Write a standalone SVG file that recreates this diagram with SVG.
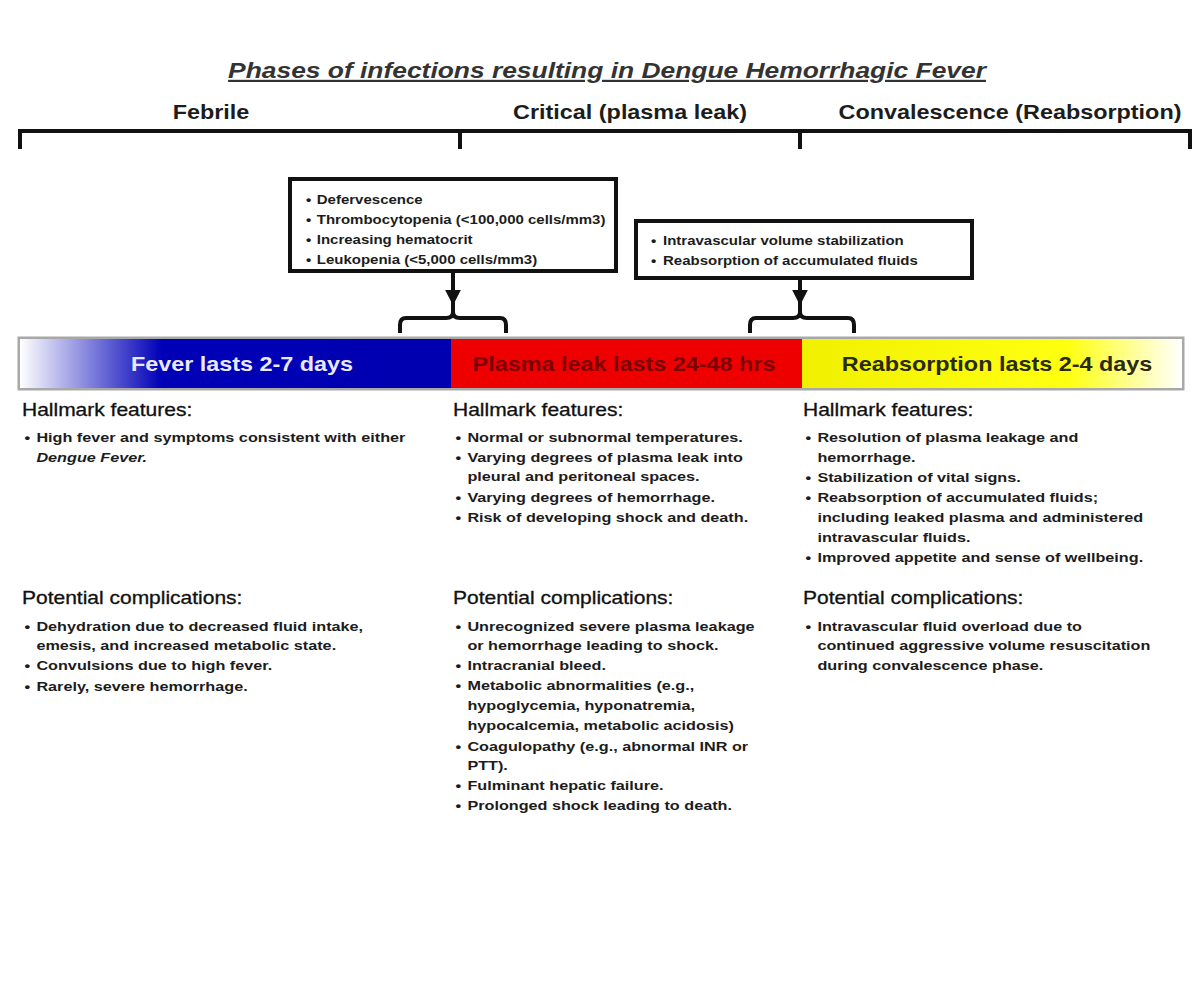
<svg xmlns="http://www.w3.org/2000/svg" width="1200" height="981" viewBox="0 0 1200 981">
<defs>
<style>
text{font-family:"Liberation Sans",Arial,sans-serif;fill:#1c1c1c}
.title{font-size:22px;font-weight:bold;font-style:italic;fill:#333;text-decoration:underline}
.phase{font-size:19.5px;font-weight:bold}
.box{font-size:12.5px;font-weight:bold}
.bar{font-size:19.5px;font-weight:bold}
.hd{font-size:17.5px;fill:#111;stroke:#111;stroke-width:0.3}
.bd{font-size:13.5px;font-weight:bold}
.ln{fill:none;stroke:#111;stroke-width:4}
.frame{fill:#fff;stroke:#111;stroke-width:4}
</style>
<linearGradient id="gBlue" x1="20" y1="0" x2="450" y2="0" gradientUnits="userSpaceOnUse">
<stop offset="0" stop-color="#ffffff"/>
<stop offset="0.33" stop-color="#0000b8"/>
<stop offset="1" stop-color="#0000b0"/>
</linearGradient>
<linearGradient id="gYel" x1="802" y1="0" x2="1182" y2="0" gradientUnits="userSpaceOnUse">
<stop offset="0" stop-color="#f0f000"/>
<stop offset="0.7" stop-color="#ffff10"/>
<stop offset="1" stop-color="#ffffff"/>
</linearGradient>
<marker id="arr" viewBox="0 0 10 10" refX="9" refY="5" markerWidth="4" markerHeight="4" orient="auto" markerUnits="strokeWidth">
<path d="M0,0 L10,5 L0,10 Z" fill="#111"/>
</marker>
</defs>
<rect width="1200" height="981" fill="#ffffff"/>

<g id="title" transform="translate(607 0) scale(1.2 1)">
<text class="title" x="0" y="78" text-anchor="middle">Phases of infections resulting in Dengue Hemorrhagic Fever</text>
</g>

<g id="phase-headers">
<g transform="translate(211 0) scale(1.2 1)"><text class="phase" x="0" y="119" text-anchor="middle">Febrile</text></g>
<g transform="translate(630 0) scale(1.2 1)"><text class="phase" x="0" y="119" text-anchor="middle">Critical (plasma leak)</text></g>
<g transform="translate(1010 0) scale(1.2 1)"><text class="phase" x="0" y="119" text-anchor="middle">Convalescence (Reabsorption)</text></g>
</g>

<g id="timeline-bracket">
<path class="ln" d="M20,149 V131 H1190 V149 M460,131 V149 M800,131 V149"/>
</g>

<g id="box-critical-signs">
<rect class="frame" x="290" y="179" width="326" height="92"/>
<g transform="translate(306 0) scale(1.2 1)">
<text class="box" x="0" y="204">•</text><text class="box" x="9" y="204">Defervescence</text>
<text class="box" x="0" y="224">•</text><text class="box" x="9" y="224">Thrombocytopenia (&lt;100,000 cells/mm3)</text>
<text class="box" x="0" y="244">•</text><text class="box" x="9" y="244">Increasing hematocrit</text>
<text class="box" x="0" y="264">•</text><text class="box" x="9" y="264">Leukopenia (&lt;5,000 cells/mm3)</text>
</g>
</g>

<g id="box-recovery-signs">
<rect class="frame" x="636" y="221" width="336" height="57"/>
<g transform="translate(651 0) scale(1.2 1)">
<text class="box" x="0" y="245">•</text><text class="box" x="10" y="245">Intravascular volume stabilization</text>
<text class="box" x="0" y="265">•</text><text class="box" x="10" y="265">Reabsorption of accumulated fluids</text>
</g>
</g>

<g id="connectors">
<path class="ln" d="M453,271 V304" marker-end="url(#arr)"/>
<path class="ln" d="M453,302 V312 Q453,318 446,318 H406 Q400,318 400,325 V333 M453,312 Q453,318 460,318 H500 Q506,318 506,325 V333"/>
<path class="ln" d="M800,278 V304" marker-end="url(#arr)"/>
<path class="ln" d="M800,302 V312 Q800,318 793,318 H756 Q750,318 750,325 V333 M800,312 Q800,318 807,318 H848 Q854,318 854,325 V333"/>
</g>

<g id="phase-bar">
<rect x="19" y="338" width="1164" height="51" fill="none" stroke="#a8a8a8" stroke-width="3"/>
<rect id="bar-fever" x="20" y="339" width="431" height="49" fill="url(#gBlue)"/>
<rect id="bar-plasma" x="451" y="339" width="351" height="49" fill="#ee0000"/>
<rect id="bar-reabs" x="802" y="339" width="380" height="49" fill="url(#gYel)"/>
<g transform="translate(242 0) scale(1.2 1)"><text class="bar" x="0" y="371" text-anchor="middle" style="fill:#e8e8ff">Fever lasts 2-7 days</text></g>
<g transform="translate(624 0) scale(1.2 1)"><text class="bar" x="0" y="371" text-anchor="middle" style="fill:#7a0000">Plasma leak lasts 24-48 hrs</text></g>
<g transform="translate(997 0) scale(1.2 1)"><text class="bar" x="0" y="371" text-anchor="middle" style="fill:#2a2a10">Reabsorption lasts 2-4 days</text></g>
</g>

<g id="col-febrile" transform="translate(22 0) scale(1.2 1)">
<text class="hd" x="0" y="416">Hallmark features:</text>
<text class="bd" x="2" y="442">•</text><text class="bd" x="12" y="442">High fever and symptoms consistent with either</text>
<text class="bd" x="12" y="462" font-style="italic">Dengue Fever.</text>
<text class="hd" x="0" y="604">Potential complications:</text>
<text class="bd" x="2" y="631">•</text><text class="bd" x="12" y="631">Dehydration due to decreased fluid intake,</text>
<text class="bd" x="12" y="650">emesis, and increased metabolic state.</text>
<text class="bd" x="2" y="670">•</text><text class="bd" x="12" y="670">Convulsions due to high fever.</text>
<text class="bd" x="2" y="691">•</text><text class="bd" x="12" y="691">Rarely, severe hemorrhage.</text>
</g>

<g id="col-critical" transform="translate(453 0) scale(1.2 1)">
<text class="hd" x="0" y="416">Hallmark features:</text>
<text class="bd" x="2" y="442">•</text><text class="bd" x="12" y="442">Normal or subnormal temperatures.</text>
<text class="bd" x="2" y="462">•</text><text class="bd" x="12" y="462">Varying degrees of plasma leak into</text>
<text class="bd" x="12" y="481">pleural and peritoneal spaces.</text>
<text class="bd" x="2" y="502">•</text><text class="bd" x="12" y="502">Varying degrees of hemorrhage.</text>
<text class="bd" x="2" y="522">•</text><text class="bd" x="12" y="522">Risk of developing shock and death.</text>
<text class="hd" x="0" y="604">Potential complications:</text>
<text class="bd" x="2" y="631">•</text><text class="bd" x="12" y="631">Unrecognized severe plasma leakage</text>
<text class="bd" x="12" y="650">or hemorrhage leading to shock.</text>
<text class="bd" x="2" y="670">•</text><text class="bd" x="12" y="670">Intracranial bleed.</text>
<text class="bd" x="2" y="690">•</text><text class="bd" x="12" y="690">Metabolic abnormalities (e.g.,</text>
<text class="bd" x="12" y="710">hypoglycemia, hyponatremia,</text>
<text class="bd" x="12" y="730">hypocalcemia, metabolic acidosis)</text>
<text class="bd" x="2" y="751">•</text><text class="bd" x="12" y="751">Coagulopathy (e.g., abnormal INR or</text>
<text class="bd" x="12" y="770">PTT).</text>
<text class="bd" x="2" y="790">•</text><text class="bd" x="12" y="790">Fulminant hepatic failure.</text>
<text class="bd" x="2" y="810">•</text><text class="bd" x="12" y="810">Prolonged shock leading to death.</text>
</g>

<g id="col-convalescence" transform="translate(803 0) scale(1.2 1)">
<text class="hd" x="0" y="416">Hallmark features:</text>
<text class="bd" x="2" y="442">•</text><text class="bd" x="12" y="442">Resolution of plasma leakage and</text>
<text class="bd" x="12" y="462">hemorrhage.</text>
<text class="bd" x="2" y="482">•</text><text class="bd" x="12" y="482">Stabilization of vital signs.</text>
<text class="bd" x="2" y="502">•</text><text class="bd" x="12" y="502">Reabsorption of accumulated fluids;</text>
<text class="bd" x="12" y="522">including leaked plasma and administered</text>
<text class="bd" x="12" y="542">intravascular fluids.</text>
<text class="bd" x="2" y="562">•</text><text class="bd" x="12" y="562">Improved appetite and sense of wellbeing.</text>
<text class="hd" x="0" y="604">Potential complications:</text>
<text class="bd" x="2" y="631">•</text><text class="bd" x="12" y="631">Intravascular fluid overload due to</text>
<text class="bd" x="12" y="650">continued aggressive volume resuscitation</text>
<text class="bd" x="12" y="670">during convalescence phase.</text>
</g>
</svg>
